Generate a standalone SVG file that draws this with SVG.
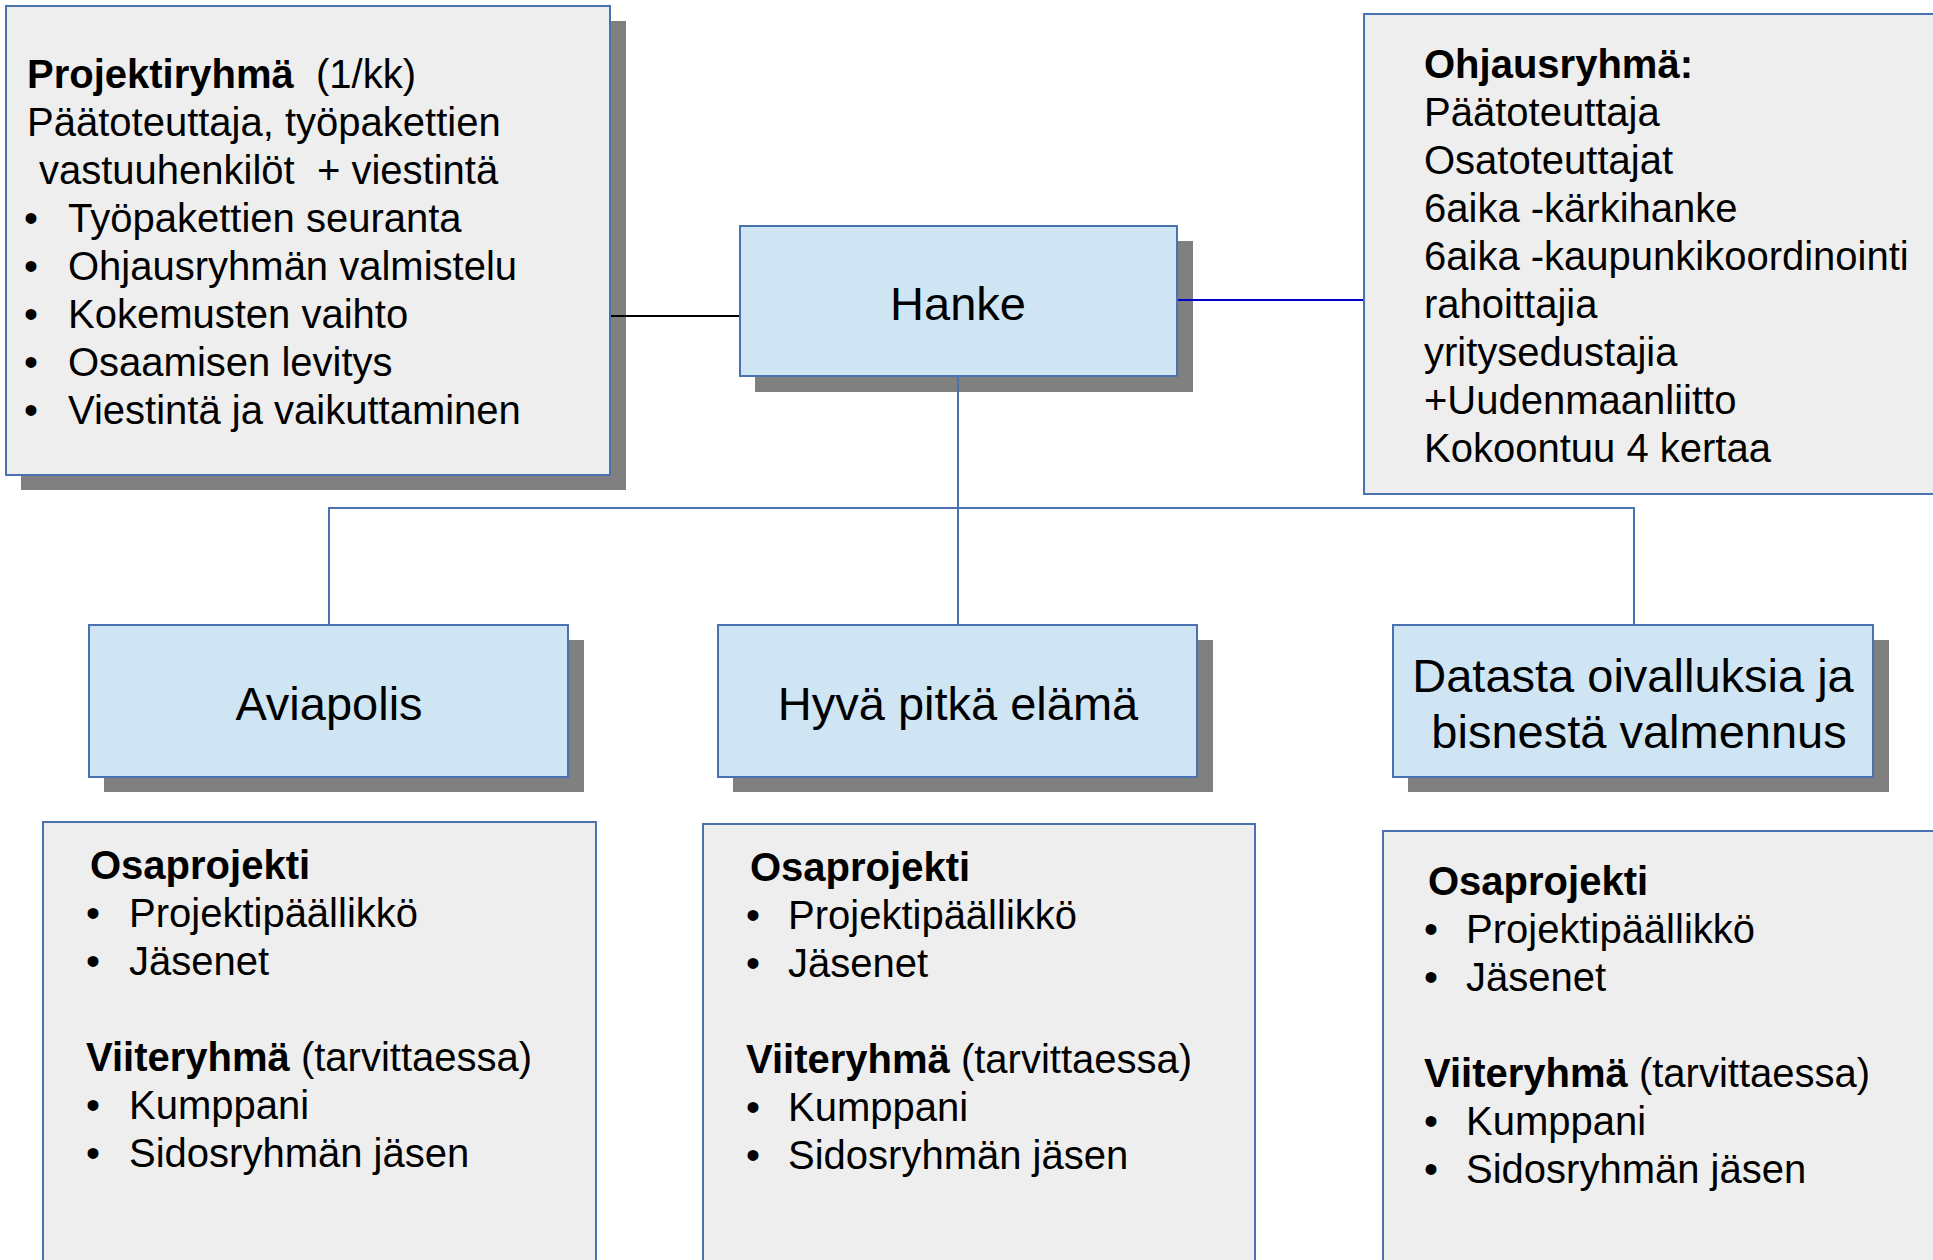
<svg xmlns="http://www.w3.org/2000/svg" width="1933" height="1260" viewBox="0 0 1933 1260">
<style>
.box{fill:#eeeeee;stroke:#4a72b0;stroke-width:2}
.blue{fill:#d0e5f3;stroke:#4a72b0;stroke-width:2}
.sh{fill:#808080}
text{font-family:"Liberation Sans",Arial,sans-serif;fill:#000}
.t{font-size:40px}
.pre{white-space:pre}
.big{font-size:47px;text-anchor:middle}
.b{font-weight:bold}
.con{stroke:#4a72b0;stroke-width:2;fill:none}
</style>
<rect width="1933" height="1260" fill="#fff"/>
<g id="projektiryhma">
<rect class="sh" x="21" y="21" width="605" height="469"/>
<rect class="box" x="6" y="6" width="604" height="469"/>
<text class="t pre" x="27" y="88" xml:space="preserve"><tspan class="b">Projektiryhmä</tspan>  (1/kk)</text>
<text class="t" x="27" y="136">Päätoteuttaja, työpakettien</text>
<text class="t pre" x="39" y="184" xml:space="preserve">vastuuhenkilöt  + viestintä</text>
<text class="t" x="24" y="232">•</text><text class="t" x="68" y="232">Työpakettien seuranta</text>
<text class="t" x="24" y="280">•</text><text class="t" x="68" y="280">Ohjausryhmän valmistelu</text>
<text class="t" x="24" y="328">•</text><text class="t" x="68" y="328">Kokemusten vaihto</text>
<text class="t" x="24" y="376">•</text><text class="t" x="68" y="376">Osaamisen levitys</text>
<text class="t" x="24" y="424">•</text><text class="t" x="68" y="424">Viestintä ja vaikuttaminen</text>
</g>
<g id="hanke">
<rect class="sh" x="755" y="241" width="438" height="151"/>
<rect class="blue" x="740" y="226" width="437" height="150"/>
<text class="big" x="958" y="320">Hanke</text>
</g>
<g id="ohjausryhma">
<rect class="box" x="1364" y="14" width="580" height="480"/>
<text class="t b" x="1424" y="78">Ohjausryhmä:</text>
<text class="t" x="1424" y="126">Päätoteuttaja</text>
<text class="t" x="1424" y="174">Osatoteuttajat</text>
<text class="t" x="1424" y="222">6aika -kärkihanke</text>
<text class="t" x="1424" y="270">6aika -kaupunkikoordinointi</text>
<text class="t" x="1424" y="318">rahoittajia</text>
<text class="t" x="1424" y="366">yritysedustajia</text>
<text class="t" x="1424" y="414">+Uudenmaanliitto</text>
<text class="t" x="1424" y="462">Kokoontuu 4 kertaa</text>
</g>
<g id="aviapolis">
<rect class="sh" x="104" y="640" width="480" height="152"/>
<rect class="blue" x="89" y="625" width="479" height="152"/>
<text class="big" x="329" y="720">Aviapolis</text>
</g>
<g id="hyva">
<rect class="sh" x="733" y="640" width="480" height="152"/>
<rect class="blue" x="718" y="625" width="479" height="152"/>
<text class="big" x="958" y="720">Hyvä pitkä elämä</text>
</g>
<g id="datasta">
<rect class="sh" x="1408" y="640" width="481" height="152"/>
<rect class="blue" x="1393" y="625" width="480" height="152"/>
<text class="big" x="1633" y="692">Datasta oivalluksia ja</text>
<text class="big" x="1639" y="748">bisnestä valmennus</text>
</g>
<g id="osa1">
<rect class="box" x="43" y="822" width="553" height="450"/>
<text class="t b" x="90" y="879">Osaprojekti</text>
<text class="t" x="86" y="927">•</text><text class="t" x="129" y="927">Projektipäällikkö</text>
<text class="t" x="86" y="975">•</text><text class="t" x="129" y="975">Jäsenet</text>
<text class="t" x="86" y="1071"><tspan class="b">Viiteryhmä</tspan> (tarvittaessa)</text>
<text class="t" x="86" y="1119">•</text><text class="t" x="129" y="1119">Kumppani</text>
<text class="t" x="86" y="1167">•</text><text class="t" x="129" y="1167">Sidosryhmän jäsen</text>
</g>
<g id="osa2">
<rect class="box" x="703" y="824" width="552" height="450"/>
<text class="t b" x="750" y="881">Osaprojekti</text>
<text class="t" x="746" y="929">•</text><text class="t" x="788" y="929">Projektipäällikkö</text>
<text class="t" x="746" y="977">•</text><text class="t" x="788" y="977">Jäsenet</text>
<text class="t" x="746" y="1073"><tspan class="b">Viiteryhmä</tspan> (tarvittaessa)</text>
<text class="t" x="746" y="1121">•</text><text class="t" x="788" y="1121">Kumppani</text>
<text class="t" x="746" y="1169">•</text><text class="t" x="788" y="1169">Sidosryhmän jäsen</text>
</g>
<g id="osa3">
<rect class="box" x="1383" y="831" width="560" height="450"/>
<text class="t b" x="1428" y="895">Osaprojekti</text>
<text class="t" x="1424" y="943">•</text><text class="t" x="1466" y="943">Projektipäällikkö</text>
<text class="t" x="1424" y="991">•</text><text class="t" x="1466" y="991">Jäsenet</text>
<text class="t" x="1424" y="1087"><tspan class="b">Viiteryhmä</tspan> (tarvittaessa)</text>
<text class="t" x="1424" y="1135">•</text><text class="t" x="1466" y="1135">Kumppani</text>
<text class="t" x="1424" y="1183">•</text><text class="t" x="1466" y="1183">Sidosryhmän jäsen</text>
</g>
<g id="connectors">
<line x1="611" y1="316" x2="739" y2="316" stroke="#000" stroke-width="2"/>
<line x1="1178" y1="300" x2="1363" y2="300" stroke="#0000c8" stroke-width="2"/>
<polyline class="con" points="958,377 958,624"/>
<polyline class="con" points="329,624 329,508 1634,508 1634,624"/>
</g>
</svg>
